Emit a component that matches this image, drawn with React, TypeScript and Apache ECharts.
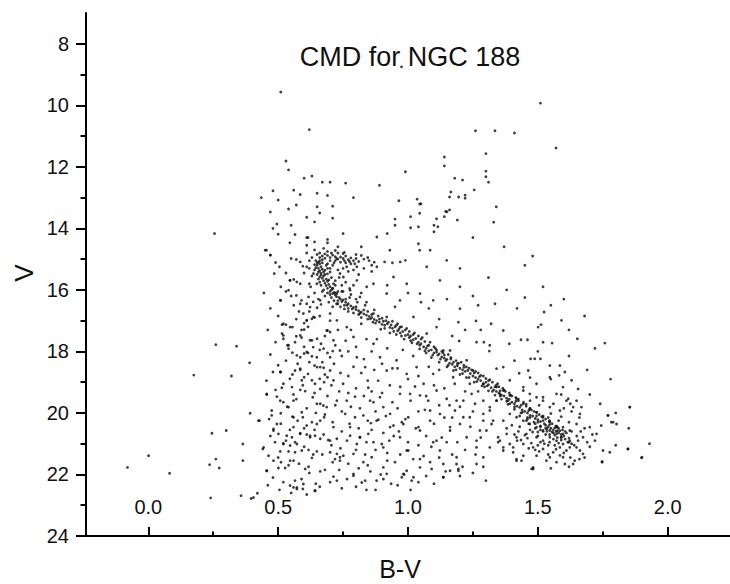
import React, { useEffect, useRef } from "react";
import * as echarts from "echarts";

// ---- tick values ----
const xMajorTicks = [0, 0.5, 1.0, 1.5, 2.0];
const xMinorTicks = [0.25, 0.75, 1.25, 1.75];
const yMajorTicks = [8, 10, 12, 14, 16, 18, 20, 22, 24];
const yMinorTicks = [9, 11, 13, 15, 17, 19, 21, 23];

// ---- data: [B-V, V] ----
const brightStars = [
  [0.51, 9.57], [0.62, 10.79], [0.53, 11.81], [0.54, 12.1], [0.6, 12.37], [0.63, 12.3], [0.67, 12.5],
  [0.7, 12.5], [0.76, 12.53], [0.89, 12.6], [0.99, 12.16], [0.975, 8.75], [1.51, 9.93], [1.26, 10.83],
  [1.335, 10.83], [1.41, 10.9], [1.57, 11.39], [1.3, 11.57], [1.14, 11.68], [1.14, 11.97], [1.3, 12.14],
  [1.3, 12.32], [1.31, 12.5], [1.18, 12.37], [1.21, 12.43], [1.255, 12.75], [1.165, 12.82], [1.16, 12.98],
  [1.195, 12.98], [1.22, 12.92], [1.22, 13.02], [1.34, 13.3], [1.05, 13.2], [1.16, 13.4], [1.145, 13.45],
  [1.14, 13.62], [1.11, 13.69], [1.19, 13.73], [1.1, 13.9],
];

const upperField = [
  [0.435, 13.0], [0.48, 12.78], [0.5, 13.08], [0.56, 12.76], [0.585, 12.9], [0.65, 12.86], [0.69, 12.93],
  [0.79, 13.0], [0.965, 13.1], [1.035, 13.05], [0.47, 13.47], [0.54, 13.37], [0.57, 13.24], [0.65, 13.3],
  [0.66, 13.5], [0.71, 13.28], [0.61, 13.64], [0.64, 13.79], [0.71, 13.67], [0.495, 13.86], [0.55, 13.9],
  [0.48, 14.0], [0.95, 13.7], [0.95, 13.9], [1.01, 13.98], [1.04, 13.95], [0.5, 14.19], [0.565, 14.2],
  [0.545, 14.47], [0.61, 14.3], [0.69, 14.36], [0.69, 14.47], [0.75, 14.17], [0.73, 14.6], [0.61, 14.55],
  [0.64, 14.44], [0.82, 14.6], [0.92, 14.17], [1.01, 13.62], [1.045, 13.51], [1.045, 13.21], [1.1, 14.11],
  [1.115, 13.95], [1.15, 13.46], [1.04, 14.5], [1.045, 14.71], [1.085, 14.71], [0.88, 14.28], [0.93, 14.71],
  [0.75, 14.82], [0.455, 14.71], [0.47, 14.87], [0.255, 14.17], [0.615, 14.3], [0.61, 14.8], [0.49, 15.11],
  [0.505, 15.25], [0.485, 15.47], [0.55, 14.98], [0.57, 15.01], [0.585, 15.09], [0.595, 15.23], [0.6, 15.45],
  [1.37, 14.6], [1.48, 14.9], [1.2, 15.3], [1.31, 15.6], [1.45, 15.2], [1.25, 14.3], [1.33, 13.8],
];

const turnoffStars = [
  [0.65, 14.85], [0.66, 14.8], [0.67, 14.9], [0.68, 14.83], [0.69, 14.88], [0.7, 14.95], [0.71, 14.87],
  [0.72, 14.92], [0.73, 15.0], [0.74, 14.93], [0.75, 14.98], [0.76, 14.9], [0.77, 15.02], [0.78, 14.96],
  [0.79, 15.05], [0.8, 14.98], [0.81, 15.08], [0.83, 15.0], [0.66, 14.95], [0.67, 15.02], [0.68, 14.97],
  [0.7, 15.05], [0.72, 15.05], [0.74, 15.1], [0.76, 15.12], [0.78, 15.15], [0.85, 15.05], [0.87, 15.1],
  [0.69, 14.75], [0.73, 14.8], [0.91, 15.09], [0.94, 15.12], [0.97, 15.09], [0.99, 15.04],
  [0.645, 15.05], [0.655, 15.1], [0.66, 15.15], [0.65, 15.2], [0.665, 15.25], [0.655, 15.3], [0.67, 15.33],
  [0.66, 15.38], [0.675, 15.42], [0.665, 15.46], [0.68, 15.5], [0.65, 15.12], [0.64, 15.18], [0.645, 15.28],
  [0.67, 15.12], [0.685, 15.2], [0.69, 15.3], [0.68, 15.36], [0.7, 15.42], [0.675, 15.55], [0.66, 15.58],
  [0.67, 15.62], [0.685, 15.65], [0.675, 15.7], [0.69, 15.72], [0.68, 15.78], [0.695, 15.82], [0.685, 15.86],
  [0.7, 15.9], [0.69, 15.95], [0.705, 16.0], [0.7, 16.05], [0.715, 16.08], [0.71, 16.12], [0.72, 16.17],
  [0.725, 16.22], [0.735, 16.25], [0.74, 16.3], [0.75, 16.33], [0.745, 16.38], [0.76, 16.4], [0.77, 16.45],
  [0.765, 16.5], [0.78, 16.52], [0.79, 16.57], [0.785, 16.62], [0.8, 16.64], [0.81, 16.68], [0.82, 16.72],
  [0.815, 16.76], [0.83, 16.78], [0.84, 16.82], [0.85, 16.86], [0.86, 16.9], [0.855, 16.94], [0.87, 16.96],
  [0.88, 17.0], [0.655, 15.42], [0.665, 15.52], [0.69, 15.48], [0.705, 15.6], [0.695, 15.68],
  [0.72, 15.85], [0.71, 15.95], [0.73, 16.05],
];

const turnoffSpread = [
  [0.62, 15.3], [0.63, 15.55], [0.625, 15.9], [0.64, 16.1], [0.655, 16.3], [0.67, 16.05], [0.66, 15.75],
  [0.68, 16.2], [0.695, 16.4], [0.71, 16.55], [0.72, 15.7], [0.735, 15.6], [0.745, 15.85], [0.75, 16.05],
  [0.76, 15.75], [0.775, 15.95], [0.78, 16.15], [0.79, 15.85], [0.8, 16.3], [0.82, 16.1], [0.84, 16.4],
  [0.7, 15.3], [0.71, 15.2], [0.73, 15.35], [0.75, 15.3], [0.77, 15.4], [0.79, 15.35], [0.81, 15.5],
  [0.83, 15.3], [0.86, 15.4], [0.88, 15.25], [0.63, 14.95], [0.64, 14.7], [0.62, 15.05], [0.675, 14.65],
  [0.72, 14.72], [0.755, 14.78], [0.8, 14.85], [0.82, 14.88], [0.845, 14.95], [0.86, 15.2], [0.69, 15.15],
  [0.715, 15.12], [0.705, 14.8], [0.725, 14.98], [0.755, 15.05], [0.775, 15.08], [0.795, 15.15], [0.66, 15.05],
  [0.64, 15.35], [0.65, 15.5], [0.655, 15.65], [0.665, 15.85], [0.675, 16.0], [0.69, 16.1], [0.705, 16.25],
  [0.715, 16.35], [0.725, 16.45], [0.74, 16.55], [0.755, 16.62], [0.77, 16.7],
];

const mainSequence = [
  [0.89, 17.05], [0.9, 17.12], [0.905, 17.02], [0.91, 17.15], [0.92, 17.1], [0.93, 17.22], [0.935, 17.14],
  [0.94, 17.25], [0.95, 17.2], [0.96, 17.33], [0.965, 17.28], [0.97, 17.4], [0.98, 17.35], [0.99, 17.48],
  [1.0, 17.45], [1.005, 17.55], [1.01, 17.5], [1.02, 17.62], [1.03, 17.58], [1.04, 17.7], [1.045, 17.8],
  [1.05, 17.75], [1.06, 17.85], [1.07, 17.9], [1.075, 17.82], [1.08, 17.98], [1.09, 17.95], [1.1, 18.05],
  [1.11, 18.02], [1.115, 18.12], [1.12, 18.08], [1.13, 18.18], [1.14, 18.22], [1.145, 18.3], [1.15, 18.26],
  [1.16, 18.38], [1.17, 18.42], [1.175, 18.35], [1.18, 18.5], [1.19, 18.47], [1.2, 18.55], [1.21, 18.6],
  [1.215, 18.52], [1.22, 18.65], [1.23, 18.62], [1.24, 18.72], [1.25, 18.8], [1.255, 18.7], [1.26, 18.85],
  [1.27, 18.9], [1.275, 18.82], [1.28, 18.95], [1.29, 19.05], [1.3, 19.0], [1.305, 19.12], [1.31, 19.08],
  [1.32, 19.18], [1.33, 19.25], [1.335, 19.15], [1.34, 19.3], [1.35, 19.35], [1.355, 19.28], [1.36, 19.42],
  [1.37, 19.45], [1.38, 19.52], [1.385, 19.6], [1.39, 19.55], [1.4, 19.65], [1.41, 19.7], [1.415, 19.62],
  [1.42, 19.78], [1.43, 19.82], [1.435, 19.75], [1.44, 19.9], [1.45, 19.95], [1.46, 20.0], [1.465, 19.92],
  [1.47, 20.08], [1.48, 20.1], [1.49, 20.18], [1.495, 20.1], [1.5, 20.22], [1.51, 20.28], [1.52, 20.25],
  [1.525, 20.35], [1.53, 20.4], [1.54, 20.45], [1.545, 20.38], [1.55, 20.5], [1.56, 20.55], [1.565, 20.48],
  [1.57, 20.6], [1.58, 20.65], [1.585, 20.58], [1.59, 20.7], [1.6, 20.75],
  [0.7, 16.15], [0.72, 16.1], [0.73, 16.35], [0.76, 16.3], [0.77, 16.6], [0.8, 16.55], [0.81, 16.8],
  [0.83, 16.65], [0.845, 16.95], [0.86, 16.8], [0.875, 17.08], [0.89, 16.95], [0.91, 17.25], [0.925, 17.05],
  [0.945, 17.35], [0.955, 17.15], [0.975, 17.5], [0.99, 17.3], [1.01, 17.65], [1.02, 17.45], [1.035, 17.75],
  [1.05, 17.6], [1.065, 17.98], [1.08, 17.8], [1.095, 18.12], [1.105, 17.9], [1.125, 18.25], [1.135, 18.05],
  [1.155, 18.45], [1.165, 18.25], [1.185, 18.6], [1.195, 18.38], [1.21, 18.72], [1.225, 18.5], [1.235, 18.85],
  [1.25, 18.62], [1.265, 18.98], [1.28, 18.78], [1.295, 19.15], [1.31, 18.95], [1.325, 19.3], [1.34, 19.1],
  [1.355, 19.45], [1.37, 19.25], [1.38, 19.62], [1.395, 19.42], [1.41, 19.8], [1.425, 19.6], [1.44, 19.98],
  [1.455, 19.78], [1.47, 20.15], [1.485, 19.95], [1.5, 20.3], [1.515, 20.12], [1.53, 20.5], [1.545, 20.25],
  [1.56, 20.65], [1.575, 20.45], [1.59, 20.8], [1.605, 20.6],
];

const ridgeSpread = [
  [0.71, 15.95], [0.73, 16.45], [0.745, 16.05], [0.755, 16.5], [0.775, 16.25], [0.79, 16.75], [0.805, 16.4],
  [0.82, 16.9], [0.835, 16.5], [0.845, 16.7], [0.865, 17.05], [0.87, 16.65], [0.885, 16.85], [0.895, 17.28],
  [0.9, 16.92], [0.915, 17.0], [0.93, 17.4], [0.94, 17.02], [0.955, 17.45], [0.96, 17.1], [0.975, 17.2],
  [0.985, 17.6], [0.995, 17.25], [1.005, 17.35], [1.015, 17.72], [1.025, 17.4], [1.04, 17.5], [1.045, 17.92],
  [1.055, 17.55], [1.065, 17.68], [1.07, 18.05], [1.085, 17.7], [1.09, 18.2], [1.1, 17.85], [1.11, 17.95],
  [1.12, 18.35], [1.13, 18.0], [1.14, 18.12], [1.15, 18.5], [1.155, 18.1], [1.165, 18.2], [1.175, 18.62],
  [1.185, 18.3], [1.19, 18.4], [1.2, 18.75], [1.205, 18.35], [1.215, 18.45], [1.225, 18.85], [1.235, 18.55],
  [1.245, 18.6], [1.255, 19.0], [1.26, 18.65], [1.27, 18.7], [1.285, 19.12], [1.29, 18.8], [1.3, 18.88],
  [1.31, 19.28], [1.315, 18.92], [1.325, 19.0], [1.335, 19.42], [1.345, 19.05], [1.35, 19.15], [1.36, 19.55],
  [1.365, 19.2], [1.375, 19.3], [1.385, 19.72], [1.39, 19.35], [1.4, 19.45], [1.41, 19.88], [1.415, 19.5],
  [1.425, 19.55], [1.435, 20.0], [1.445, 19.65], [1.455, 19.72], [1.46, 20.15], [1.47, 19.85], [1.475, 19.9],
  [1.485, 20.3], [1.495, 19.98], [1.505, 20.05], [1.51, 20.45], [1.52, 20.1], [1.53, 20.2], [1.535, 20.6],
  [1.545, 20.28], [1.555, 20.35], [1.565, 20.72], [1.57, 20.42], [1.58, 20.5], [1.59, 20.88], [1.595, 20.55],
  [1.61, 20.65], [1.62, 20.82], [1.63, 20.6], [1.615, 20.95], [1.575, 20.8], [1.545, 20.7], [1.52, 20.6],
  [1.49, 20.5], [1.465, 20.35], [1.5, 20.75],
];

const lowerRightClump = [
  [1.29, 19.05], [1.341, 19.16], [1.367, 19.27], [1.392, 19.43], [1.418, 19.54], [1.444, 19.7], [1.469, 19.87],
  [1.495, 19.98], [1.52, 20.14], [1.546, 20.3], [1.572, 20.46], [1.597, 20.68], [1.623, 20.9], [1.649, 21.12],
  [1.662, 21.22], [1.674, 20.79], [1.7, 20.46], [1.726, 20.68], [1.751, 21.22], [1.777, 21.28], [1.77, 20.08],
  [1.783, 20.3], [1.803, 20.36], [1.854, 19.81], [1.847, 21.17], [1.899, 21.46], [1.747, 21.58], [1.482, 21.82],
  [1.533, 21.55], [1.636, 21.66], [1.642, 21.55], [1.597, 21.44], [1.674, 21.33], [1.367, 21.12], [1.405, 21.28],
  [1.444, 21.39], [1.392, 21.01], [1.444, 21.01], [1.482, 21.12], [1.52, 21.17], [1.559, 21.28], [1.585, 21.12],
  [1.61, 21.22], [1.347, 20.79], [1.38, 20.68], [1.418, 20.79], [1.456, 20.68], [1.495, 20.79], [1.52, 20.9],
  [1.546, 20.79], [1.572, 20.9], [1.597, 21.01], [1.623, 21.12], [1.367, 20.25], [1.392, 20.03], [1.418, 20.14],
  [1.444, 20.25], [1.469, 20.36], [1.495, 20.46], [1.52, 20.57], [1.546, 20.57], [1.572, 20.68], [1.597, 20.46],
  [1.623, 20.57], [1.649, 20.36], [1.662, 20.03], [1.636, 19.81], [1.61, 19.6], [1.585, 19.92], [1.546, 19.81],
  [1.52, 19.6], [1.495, 19.49], [1.469, 19.38], [1.444, 19.27], [1.392, 19.7], [1.341, 19.6], [1.315, 19.81],
  [1.328, 20.25], [1.302, 20.57], [1.315, 21.12], [1.29, 21.44], [1.418, 21.5], [1.495, 21.39], [1.546, 21.44],
  [1.572, 21.6], [1.604, 21.66], [1.335, 16.45], [1.524, 16.72], [1.591, 16.99], [1.512, 17.13], [1.501, 17.21],
  [1.2, 16.61], [1.194, 17.05], [1.262, 17.01], [1.367, 17.32], [1.652, 17.59], [1.758, 17.73], [1.197, 17.66],
  [1.264, 17.7], [1.292, 17.7], [1.315, 17.8], [1.39, 17.75], [1.435, 17.62], [1.46, 17.62], [1.52, 17.7],
  [1.555, 17.73], [1.472, 18.24], [1.488, 18.24], [1.51, 18.24], [1.313, 17.99], [1.367, 18.51], [1.341, 18.56],
  [1.428, 18.71], [1.463, 18.62], [1.546, 18.46], [1.585, 18.46], [1.604, 18.67], [1.582, 18.78], [1.546, 18.84],
  [1.63, 18.94], [1.655, 19.22], [1.649, 19.6], [1.668, 19.81], [1.617, 19.54], [1.744, 20.41], [1.77, 20.08],
  [1.79, 20.3], [1.854, 19.81], [1.901, 21.44], [1.748, 21.6], [1.847, 21.17], [1.162, 17.97], [1.226, 18.29],
  [1.174, 18.84], [1.238, 19.05], [1.187, 19.6], [1.213, 20.14], [1.29, 19.6], [1.315, 19.92], [1.354, 19.38],
  [1.29, 20.25], [1.354, 20.9], [1.264, 21.12], [1.187, 21.66], [1.418, 21.55], [1.482, 21.77], [1.392, 18.94],
  [1.444, 19.16], [1.495, 19.05], [1.52, 19.49], [1.572, 19.38], [1.597, 19.16],
  [1.5, 20.62], [1.53, 20.7], [1.56, 20.85], [1.58, 20.98], [1.47, 20.55], [1.51, 20.95], [1.54, 21.05],
  [1.57, 21.18], [1.6, 21.3], [1.63, 21.0], [1.65, 20.75], [1.43, 20.45], [1.46, 20.82], [1.49, 21.2],
  [1.62, 20.3], [1.59, 20.12], [1.55, 20.02], [1.51, 20.42], [1.48, 20.62], [1.42, 20.9],
];

const clumpExtra = [
  [1.43, 20.1], [1.46, 20.2], [1.49, 20.35], [1.51, 20.55], [1.535, 20.52], [1.555, 20.62], [1.575, 20.58],
  [1.59, 20.78], [1.605, 20.85], [1.62, 20.95], [1.64, 21.05], [1.655, 20.9], [1.665, 20.6], [1.68, 20.5],
  [1.69, 20.95], [1.7, 21.1], [1.71, 20.7], [1.565, 21.05], [1.545, 20.95], [1.525, 21.0], [1.5, 21.05],
  [1.475, 20.98], [1.45, 20.72], [1.425, 20.6], [1.4, 20.4], [1.38, 20.5], [1.41, 20.7], [1.435, 20.88],
  [1.465, 21.15], [1.505, 21.25], [1.54, 21.35], [1.585, 21.38], [1.625, 21.45], [1.66, 21.5], [1.6, 19.85],
  [1.63, 19.95], [1.66, 20.15], [1.58, 20.25], [1.54, 20.15], [1.505, 19.75], [1.47, 19.6], [1.59, 19.4],
  [1.56, 19.7], [1.625, 19.7],
  [1.45, 16.25], [1.55, 16.5], [1.68, 16.85], [1.62, 17.3], [1.72, 17.9], [1.5, 18.0], [1.41, 18.3],
  [1.62, 18.15], [1.69, 18.6], [1.78, 18.9], [1.55, 18.9], [1.47, 18.85], [1.7, 19.4], [1.74, 19.7],
  [1.8, 20.0], [1.72, 20.9], [1.8, 21.05], [1.68, 21.45], [1.62, 21.75], [1.55, 21.8], [1.85, 20.5],
  [1.93, 21.0],
];

const fieldStars = [
  [0.26, 17.78], [0.34, 17.83], [0.175, 18.77], [0.32, 18.8], [0.39, 18.37], [0.456, 19.4], [0.392, 20.01],
  [0.428, 20.25], [0.245, 20.66], [0.3, 20.57], [0.001, 21.39], [-0.08, 21.77], [0.082, 21.96], [0.26, 21.5],
  [0.236, 21.68], [0.273, 21.79], [0.364, 21.01], [0.364, 21.55], [0.441, 21.17], [0.456, 21.88], [0.24, 22.76],
  [0.357, 22.69], [0.396, 22.78], [0.42, 22.61],
  [0.45, 14.71], [0.47, 14.87], [0.53, 16.05], [0.55, 16.2], [0.57, 16.18], [0.59, 16.34], [0.61, 16.45],
  [0.635, 16.39], [0.65, 16.58], [0.665, 16.47], [0.51, 16.34], [0.515, 17.13], [0.53, 17.13], [0.555, 17.21],
  [0.6, 17.08], [0.61, 16.99], [0.63, 16.94], [0.64, 16.9], [0.6, 17.29], [0.515, 17.42], [0.52, 17.59],
  [0.57, 17.51], [0.59, 17.55], [0.63, 17.64], [0.65, 17.59], [0.69, 17.32], [0.7, 17.37], [0.54, 17.8],
  [0.54, 17.91], [0.555, 18.04], [0.585, 18.19], [0.6, 18.07], [0.615, 18.05], [0.63, 18.16], [0.66, 17.95],
  [0.675, 17.91], [0.7, 18.19], [0.71, 17.99], [0.635, 17.86], [0.48, 18.67], [0.51, 18.67], [0.565, 18.62],
  [0.585, 18.6], [0.615, 18.73], [0.64, 18.46], [0.65, 18.51], [0.675, 18.53], [0.7, 18.62], [0.545, 18.89],
  [0.6, 18.84], [0.66, 18.89], [0.69, 18.84], [0.545, 15.69], [0.56, 15.66], [0.585, 15.8], [0.62, 15.8],
  [0.546, 15.69], [0.572, 15.74], [0.508, 16.34], [0.54, 16.01], [0.585, 16.45], [0.617, 16.23], [0.623, 16.56],
  [0.597, 16.77], [0.636, 16.88], [0.52, 17.1], [0.546, 17.21], [0.61, 16.99], [0.52, 17.48], [0.585, 17.48],
  [0.623, 17.64], [0.536, 17.8], [0.572, 18.13], [0.61, 18.02], [0.649, 18.19], [0.508, 18.67], [0.585, 18.56],
  [0.662, 18.51], [0.687, 17.32], [0.713, 17.64], [0.738, 17.97], [0.764, 17.21], [0.79, 17.53], [0.803, 18.19],
  [0.835, 18.51], [0.867, 17.75], [0.892, 18.19], [0.918, 18.62], [0.956, 18.29], [0.995, 18.73], [1.033, 18.51],
  [1.097, 18.73], [1.136, 17.97], [1.072, 17.42], [1.021, 16.88], [0.969, 16.34], [0.918, 16.12], [0.867, 15.8],
  [0.803, 15.69], [0.751, 15.58], [0.777, 16.01], [0.815, 16.23], [0.841, 15.9], [0.944, 15.58], [0.995, 15.8],
  [1.046, 16.12], [1.097, 16.34], [1.123, 15.69], [1.072, 15.25], [1.149, 15.04], [1.11, 17.21], [0.969, 17.21],
  [0.918, 16.88], [0.867, 16.77], [0.726, 16.99], [0.7, 16.77], [0.662, 16.34], [0.649, 15.8], [0.636, 15.47],
  [0.61, 15.25], [0.738, 15.47], [0.764, 15.25], [0.803, 15.25], [0.713, 15.8], [0.726, 16.12],
  [1.25, 16.2], [1.38, 16.0], [1.52, 15.9], [1.6, 16.3], [1.42, 16.6], [1.28, 17.3],
  [0.475, 19.92], [0.475, 20.08], [0.495, 19.47], [0.514, 19.18], [0.553, 19.16], [0.559, 19.4], [0.585, 19.25],
  [0.604, 19.29], [0.633, 19.49], [0.662, 19.7], [0.674, 19.76], [0.713, 18.94], [0.677, 19.0], [0.642, 19.05],
  [0.559, 19.6], [0.591, 19.98], [0.52, 19.65], [0.54, 19.81], [0.51, 20.01], [0.555, 20.12], [0.595, 20.14],
  [0.63, 20.3], [0.649, 20.36], [0.677, 20.14], [0.713, 20.46], [0.482, 20.52], [0.501, 20.68], [0.533, 20.74],
  [0.553, 20.79], [0.585, 20.66], [0.61, 20.7], [0.623, 20.79], [0.642, 20.74], [0.662, 20.84], [0.693, 20.88],
  [0.726, 20.84], [0.488, 20.95], [0.52, 20.99], [0.546, 21.06], [0.572, 21.01], [0.54, 21.25], [0.565, 21.28],
  [0.591, 21.22], [0.617, 21.2], [0.649, 21.25], [0.508, 21.25], [0.7, 21.28], [0.719, 21.5], [0.63, 21.46],
  [0.559, 21.55], [0.511, 21.6], [0.501, 21.79], [0.527, 21.79], [0.604, 21.82], [0.617, 21.75], [0.662, 21.9],
  [0.713, 22.07], [0.595, 22.47], [0.572, 22.47], [0.546, 22.36], [0.642, 22.53], [0.482, 21.55], [0.463, 21.39],
  [0.559, 20.46], [0.61, 20.41], [0.687, 19.81], [0.726, 19.6], [0.662, 19.22], [0.63, 18.94], [0.591, 18.94],
  [0.495, 20.36],
  [0.75, 19.05], [0.796, 19.47], [0.847, 19.18], [0.867, 19.65], [0.892, 19.49], [0.905, 19.81], [0.758, 20.03],
  [0.796, 20.14], [0.828, 20.08], [0.857, 20.33], [0.886, 20.22], [0.931, 20.03], [0.944, 20.41], [0.976, 20.3],
  [1.001, 20.14], [1.008, 19.38], [1.027, 19.14], [1.046, 19.43], [1.078, 19.6], [1.11, 19.27], [1.149, 19.54],
  [1.123, 20.03], [1.085, 20.25], [1.04, 20.46], [1.181, 19.92], [1.2, 20.36], [1.162, 20.57], [1.226, 20.79],
  [1.245, 19.38], [1.258, 19.7], [1.29, 20.03], [1.277, 20.57], [1.322, 20.36], [1.341, 19.6], [1.347, 20.95],
  [1.367, 21.22], [1.405, 21.12], [1.437, 21.55], [1.476, 21.82], [1.456, 20.25], [0.777, 20.74], [0.815, 20.79],
  [0.847, 20.68], [0.803, 21.01], [0.867, 20.95], [0.899, 21.01], [0.928, 20.9], [0.969, 20.79], [1.001, 21.22],
  [1.046, 21.5], [1.097, 20.95], [1.123, 21.22], [1.149, 20.95], [0.751, 21.39], [0.79, 21.33], [0.828, 21.6],
  [0.86, 21.44], [0.905, 21.77], [0.95, 21.6], [0.995, 21.88], [1.046, 21.77], [1.091, 21.82], [1.136, 22.09],
  [1.194, 21.88], [1.264, 21.66], [0.79, 22.04], [0.822, 22.26], [0.905, 22.15], [0.976, 22.09], [1.014, 22.2],
  [0.738, 21.44],
  [0.456, 19.38], [0.482, 20.57], [0.508, 19.6], [0.52, 21.01], [0.559, 20.14], [0.585, 20.68], [0.546, 21.55],
  [0.572, 22.42], [0.597, 22.31], [0.456, 21.88], [0.623, 20.74], [0.649, 19.7], [0.662, 20.25], [0.7, 20.9],
  [0.726, 21.33], [0.738, 21.55], [0.764, 19.6], [0.777, 20.46], [0.815, 20.79], [0.854, 19.6], [0.879, 20.25],
  [0.905, 21.12], [0.918, 21.98], [0.931, 20.46], [0.969, 19.38], [0.982, 20.36], [0.995, 21.22], [1.021, 22.09],
  [1.046, 20.57], [1.085, 19.92], [1.11, 20.9], [1.136, 21.66], [1.162, 20.46], [1.187, 21.44], [1.213, 19.6],
  [1.238, 20.14], [1.264, 20.9], [1.162, 21.88], [0.424, 20.25], [0.444, 21.12], [0.405, 22.75], [0.559, 22.42],
  [0.642, 22.53], [0.726, 22.2], [0.79, 21.98], [0.835, 22.2], [0.879, 22.2], [0.982, 21.98], [1.136, 22.09],
  [1.194, 21.82],
];

const fieldStarsExtra = [
  [0.47, 16.6], [0.5, 16.85], [0.46, 17.3], [0.49, 17.7], [0.53, 18.3], [0.47, 18.1], [0.5, 18.45],
  [0.455, 18.95], [0.52, 19.05], [0.49, 19.25], [0.535, 19.8], [0.465, 20.2], [0.51, 20.35], [0.545, 20.55],
  [0.47, 20.75], [0.53, 20.9], [0.5, 21.45], [0.54, 21.7], [0.48, 22.1], [0.52, 22.25], [0.55, 22.6],
  [0.505, 22.5], [0.46, 22.35], [0.445, 16.1], [0.53, 15.45], [0.51, 15.9],
  [0.56, 16.5], [0.58, 16.7], [0.62, 16.7], [0.57, 16.95], [0.59, 17.3], [0.615, 17.2], [0.565, 17.7],
  [0.6, 17.85], [0.575, 18.4], [0.62, 18.35], [0.555, 18.75], [0.595, 19.1], [0.64, 19.35], [0.57, 19.55],
  [0.61, 19.85], [0.645, 20.0], [0.575, 20.25], [0.6, 20.5], [0.64, 20.55], [0.565, 20.95], [0.6, 21.1],
  [0.635, 21.35], [0.58, 21.65], [0.62, 21.95], [0.59, 22.15], [0.645, 22.3], [0.61, 22.65], [0.565, 22.2],
  [0.66, 16.85], [0.7, 17.0], [0.68, 17.5], [0.73, 17.3], [0.665, 17.75], [0.72, 17.8], [0.69, 18.05],
  [0.745, 18.15], [0.67, 18.35], [0.715, 18.4], [0.74, 18.7], [0.68, 18.75], [0.705, 19.1], [0.735, 19.3],
  [0.69, 19.45], [0.72, 19.75], [0.745, 19.95], [0.68, 20.05], [0.71, 20.3], [0.745, 20.6], [0.675, 20.7],
  [0.705, 21.05], [0.74, 21.15], [0.67, 21.35], [0.71, 21.6], [0.68, 21.85], [0.735, 21.85], [0.7, 22.25],
  [0.66, 22.4], [0.745, 22.45],
  [0.78, 17.3], [0.82, 17.1], [0.76, 17.65], [0.8, 17.85], [0.84, 17.6], [0.77, 18.0], [0.83, 18.25],
  [0.79, 18.5], [0.77, 18.8], [0.82, 18.7], [0.845, 18.95], [0.8, 19.2], [0.77, 19.35], [0.83, 19.45],
  [0.78, 19.8], [0.815, 19.85], [0.845, 20.25], [0.775, 20.35], [0.81, 20.5], [0.84, 20.95], [0.765, 20.9],
  [0.8, 21.2], [0.835, 21.35], [0.77, 21.65], [0.81, 21.8], [0.845, 21.7], [0.765, 22.15], [0.8, 22.4],
  [0.84, 22.5],
  [0.88, 17.6], [0.86, 18.0], [0.92, 17.9], [0.9, 18.4], [0.87, 18.6], [0.94, 18.55], [0.885, 18.95],
  [0.93, 19.1], [0.86, 19.3], [0.9, 19.35], [0.94, 19.65], [0.875, 19.95], [0.915, 20.1], [0.86, 20.55],
  [0.905, 20.65], [0.945, 20.75], [0.875, 21.2], [0.92, 21.3], [0.855, 21.9], [0.895, 22.0], [0.935, 22.3],
  [0.875, 22.5], [0.92, 21.55],
  [0.98, 17.95], [1.02, 18.15], [0.96, 18.55], [1.0, 18.9], [1.04, 18.8], [0.97, 19.15], [1.01, 19.6],
  [0.96, 19.85], [1.04, 19.95], [0.99, 20.2], [1.03, 20.5], [0.965, 20.6], [1.0, 20.95], [1.04, 21.05],
  [0.97, 21.35], [1.02, 21.5], [0.985, 22.0], [1.04, 22.25], [0.96, 22.35], [1.01, 22.5],
  [1.08, 18.5], [1.12, 18.6], [1.06, 19.05], [1.1, 19.1], [1.14, 19.2], [1.07, 19.45], [1.12, 19.75],
  [1.065, 19.9], [1.1, 20.35], [1.14, 20.15], [1.07, 20.75], [1.13, 20.8], [1.09, 21.1], [1.06, 21.4],
  [1.12, 21.45], [1.085, 21.6], [1.145, 21.9], [1.07, 22.05], [1.1, 22.3],
  [1.18, 19.05], [1.22, 19.3], [1.27, 19.3], [1.16, 19.75], [1.2, 19.8], [1.25, 19.95], [1.17, 20.15],
  [1.24, 20.45], [1.28, 20.8], [1.19, 20.95], [1.22, 21.2], [1.26, 21.35], [1.17, 21.35], [1.21, 21.75],
  [1.25, 21.95], [1.29, 21.75], [1.2, 22.05], [1.3, 22.2],
  [0.92, 15.85], [1.0, 16.1], [1.08, 16.6], [1.15, 16.3], [1.2, 15.9], [1.27, 16.5], [1.12, 16.95],
  [1.05, 16.4], [0.95, 16.55], [1.22, 17.3], [1.17, 17.5], [1.32, 17.1],
];

const FONT = "'Liberation Sans', Arial, sans-serif";
const TEXT_COLOR = "#111111";

const App: React.FC = () => {
  const ref = useRef<HTMLDivElement>(null);

  useEffect(() => {
    if (!ref.current) return;
    const chart = echarts.init(ref.current, null, { renderer: "svg" });
    const scatterStyle = (data: number[][]) => ({
      type: "scatter",
      data,
      symbol: "circle",
      symbolSize: 2.8,
      itemStyle: { color: "#0d0d0d" },
      silent: true,
    });
    const axisLineStyle = { color: "#000", width: 2 };
    chart.setOption({
      animation: false,
      backgroundColor: "#ffffff",
      grid: { left: 86, top: 13, right: 0, bottom: 48, containLabel: false },
      xAxis: [
        {
          type: "value",
          min: -0.24,
          max: 2.24,
          position: "bottom",
          axisLine: { show: true, onZero: false, lineStyle: axisLineStyle },
          axisTick: { show: true, inside: true, length: 9, lineStyle: { color: "#000", width: 2 }, customValues: xMajorTicks },
          axisLabel: {
            show: true,
            inside: true,
            margin: 19,
            customValues: xMajorTicks,
            formatter: (v: number) => v.toFixed(1),
            fontSize: 20,
            color: TEXT_COLOR,
            fontFamily: FONT,
          },
          splitLine: { show: false },
        },
        {
          type: "value",
          min: -0.24,
          max: 2.24,
          position: "bottom",
          axisLine: { show: false, onZero: false },
          axisTick: { show: true, inside: true, length: 4.5, lineStyle: { color: "#000", width: 2 }, customValues: xMinorTicks },
          axisLabel: { show: false },
          splitLine: { show: false },
        },
      ],
      yAxis: [
        {
          type: "value",
          min: 7,
          max: 24,
          inverse: true,
          position: "left",
          axisLine: { show: true, onZero: false, lineStyle: axisLineStyle },
          axisTick: { show: true, inside: false, length: 10, lineStyle: { color: "#000", width: 2 }, customValues: yMajorTicks },
          axisLabel: {
            show: true,
            margin: 17,
            customValues: yMajorTicks,
            fontSize: 20,
            color: TEXT_COLOR,
            fontFamily: FONT,
          },
          splitLine: { show: false },
        },
        {
          type: "value",
          min: 7,
          max: 24,
          inverse: true,
          position: "left",
          axisLine: { show: false, onZero: false },
          axisTick: { show: true, inside: false, length: 5.5, lineStyle: { color: "#000", width: 2 }, customValues: yMinorTicks },
          axisLabel: { show: false },
          splitLine: { show: false },
        },
      ],
      graphic: [
        {
          type: "text",
          x: 410,
          y: 57,
          style: { text: "CMD for NGC 188", font: `27px ${FONT}`, fill: TEXT_COLOR, align: "center", verticalAlign: "middle" },
        },
        {
          type: "text",
          x: 400,
          y: 569,
          style: { text: "B-V", font: `25px ${FONT}`, fill: TEXT_COLOR, align: "center", verticalAlign: "middle" },
        },
        {
          type: "text",
          x: 24,
          y: 273,
          rotation: Math.PI / 2,
          style: { text: "V", font: `26px ${FONT}`, fill: TEXT_COLOR, align: "center", verticalAlign: "middle" },
        },
      ],
      series: [
        scatterStyle(brightStars),
        scatterStyle(upperField),
        scatterStyle(turnoffStars),
        scatterStyle(turnoffSpread),
        scatterStyle(mainSequence),
        scatterStyle(ridgeSpread),
        scatterStyle(lowerRightClump),
        scatterStyle(clumpExtra),
        scatterStyle(fieldStars),
        scatterStyle(fieldStarsExtra),
      ],
    });
    return () => chart.dispose();
  }, []);

  return <div ref={ref} style={{ width: 730, height: 584, position: "absolute", left: 0, top: 0 }} />;
};

export default App;
